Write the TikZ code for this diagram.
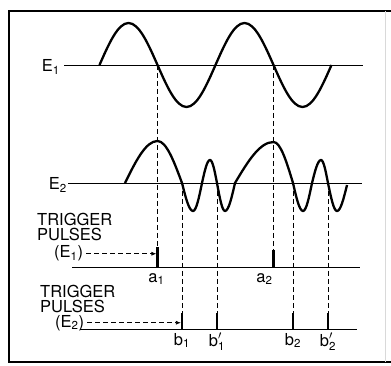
\documentclass[tikz,border=0pt]{standalone}
\usepackage{fontspec}
\setmainfont{TeX Gyre Heros}
\usetikzlibrary{arrows.meta}

\begin{document}
\begin{tikzpicture}[>=Latex,x=1pt,y=-1pt,
 frame/.style={line width=2.6pt},
 wave/.style={line width=2.3pt,line join=round},
 axis/.style={line width=0.8pt},
 guide/.style={line width=0.7pt,dash pattern=on 5pt off 3pt},
 pulse/.style={line width=2.2pt},
 txt/.style={inner sep=0pt,font=\fontsize{16.5}{18}\selectfont}]
\useasboundingbox (0,0) rectangle (391,366);
% frame
\draw[frame] (391,11) -- (9,11) -- (9,362) -- (391,362);
\draw[black!15,line width=0.8pt] (385,11) -- (385,362);
% signal E1
\node[txt,anchor=east] (e1) at (60,67) {$\mathrm{E}_{\mathrm{1}}$};
\draw[axis] (64,65) -- (363,65);
\draw[wave] (99.5,65) sin (128.5,23) cos (157.5,65) sin (186.5,107) cos (215.5,65)
 sin (244.5,23) cos (273.5,65) sin (302.5,107) cos (331.5,65);
% signal E2
\node[txt,anchor=east] (e2) at (67,185) {$\mathrm{E}_{\mathrm{2}}$};
\draw[axis] (68,183) -- (362,183);
\draw[wave] (125,183) sin (157.5,141) cos (182,183) sin (193,211) cos (202,183)
 sin (210,160) cos (217,183) sin (225,211) cos (235,183) sin (273.5,142)
 cos (293,183) sin (303,211) cos (312,183) sin (321,160) cos (328,183)
 sin (337,211) cos (347,185);
% trigger pulses from E1
\node[txt,anchor=base west] (tr1) at (37,226) {TRIGGER};
\node[txt,anchor=base west] (pu1) at (37,241) {PULSES};
\node[txt,anchor=base west] (pe1) at (54,258) {(E$_{\mathrm{1}}$)};
\draw[axis] (72,267) -- (360,267);
\coordinate (a1) at (157.5,267);
\coordinate (a2) at (273.5,267);
\draw[guide] (157.5,65) -- (157.5,247);
\draw[guide] (273.5,65) -- (273.5,250);
\draw[pulse] (a1) -- ++(0,-20);
\draw[pulse] (a2) -- ++(0,-17);
\draw[guide,-{Latex[length=5pt,width=4pt]}] ([xshift=3pt]pe1.east) -- ([xshift=-1.1pt]pe1.east -| a1);
\node[txt,anchor=north] at ([xshift=-1pt,yshift=-6pt]a1) {$\mathrm{a}_{\mathrm{1}}$};
\node[txt,anchor=north] at ([xshift=-9pt,yshift=-6pt]a2) {$\mathrm{a}_{\mathrm{2}}$};
% trigger pulses from E2
\node[txt,anchor=base west] (tr2) at (40,297) {TRIGGER};
\node[txt,anchor=base west] (pu2) at (40,312) {PULSES};
\node[txt,anchor=base west] (pe2) at (55,327) {(E$_{\mathrm{2}}$)};
\draw[axis] (80,329) -- (357,329);
\foreach \x/\n/\t in {182/b1/{\mathrm{b}_{\mathrm{1}}},217/b1p/{\mathrm{b}_{\mathrm{1}}'},
  293/b2/{\mathrm{b}_{\mathrm{2}}},328/b2p/{\mathrm{b}_{\mathrm{2}}'}} {
 \coordinate (\n) at (\x,329);
 \draw[guide] (\x,183) -- (\x,313);
 \draw[pulse] (\n) -- ++(0,-16);
 \node[txt,anchor=north] at ([yshift=-4pt]\n) {$\t$};
}
\draw[guide,-{Latex[length=5pt,width=4pt]}] ([xshift=3pt]pe2.east) -- ([xshift=-1.1pt]pe2.east -| b1);
\end{tikzpicture}
\end{document}
